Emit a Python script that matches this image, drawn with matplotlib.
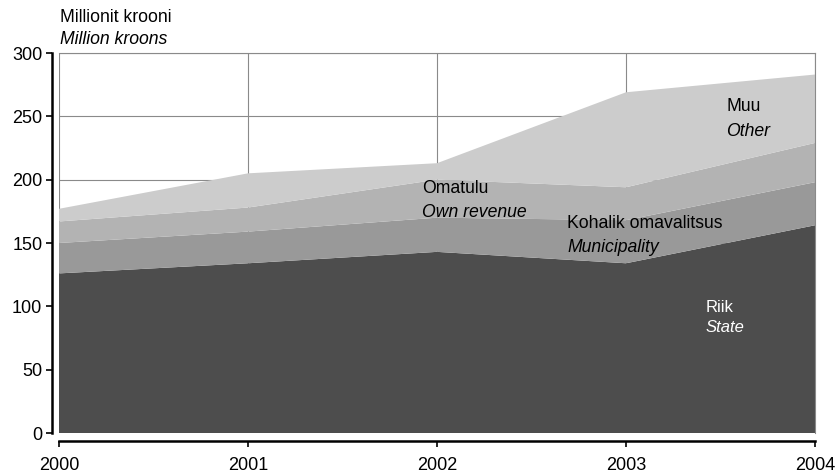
import matplotlib
matplotlib.use("Agg")
import matplotlib.pyplot as plt
import numpy as np

plt.rcParams['font.family'] = ['Liberation Sans', 'DejaVu Sans']

# Data (million kroons)
years = [2000, 2001, 2002, 2003, 2004]
state = [126, 134, 143, 134, 164]
municipality = [24, 25, 27, 34, 34]
own_revenue = [17, 19, 30, 26, 31]
other = [10, 27, 13, 75, 54]

colors = ['#4d4d4d', '#999999', '#b3b3b3', '#cccccc']

fig = plt.figure(figsize=(8.38, 4.73), dpi=100)
ax = fig.add_axes([59 / 838, 1 - 433 / 473, (815 - 59) / 838, (433 - 53) / 473])

ax.stackplot(years, state, municipality, own_revenue, other,
             colors=colors, linewidth=0, zorder=2)

ax.set_xlim(2000, 2004)
ax.set_ylim(0, 300)
ax.set_xticks(years)
ax.set_yticks(np.arange(0, 301, 50))

# grid + grey frame
ax.grid(True, color='#8a8a8a', linewidth=0.8, zorder=1)
ax.set_axisbelow(True)
for side in ['top', 'right']:
    ax.spines[side].set_color('#8a8a8a')
    ax.spines[side].set_linewidth(0.8)
for side in ['left', 'bottom']:
    ax.spines[side].set_color('black')
    ax.spines[side].set_linewidth(1.8)
ax.spines['left'].set_position(('outward', 5))
ax.spines['bottom'].set_position(('outward', 6))
ax.tick_params(axis='both', direction='out', length=4, width=1.2,
               labelsize=13, colors='black')
ax.tick_params(axis='x', pad=7)
ax.tick_params(axis='y', pad=3)

# unit label
fig.text(60 / 838, 1 - 17 / 473, 'Millionit krooni', fontsize=12.7, va='center', ha='left')
fig.text(60 / 838, 1 - 40 / 473, 'Million kroons', fontsize=12.7, va='center', ha='left',
         style='italic')

# area labels
labels = [
    (2003.53, 258, 238, 'Muu', 'Other', 'black'),
    (2001.92, 193.4, 174.4, 'Omatulu', 'Own revenue', 'black'),
    (2002.69, 165.7, 146.8, 'Kohalik omavalitsus', 'Municipality', 'black'),
    (2003.42, 98.7, 82.9, 'Riik', 'State', 'white'),
]
for x, y1, y2, et, en, c in labels:
    fs = 12 if c == 'white' else 12.7
    ax.text(x, y1, et, fontsize=fs, color=c, va='center', ha='left', zorder=3)
    ax.text(x, y2, en, fontsize=fs, color=c, va='center', ha='left', style='italic', zorder=3)

fig.savefig('out.png', dpi=100)
